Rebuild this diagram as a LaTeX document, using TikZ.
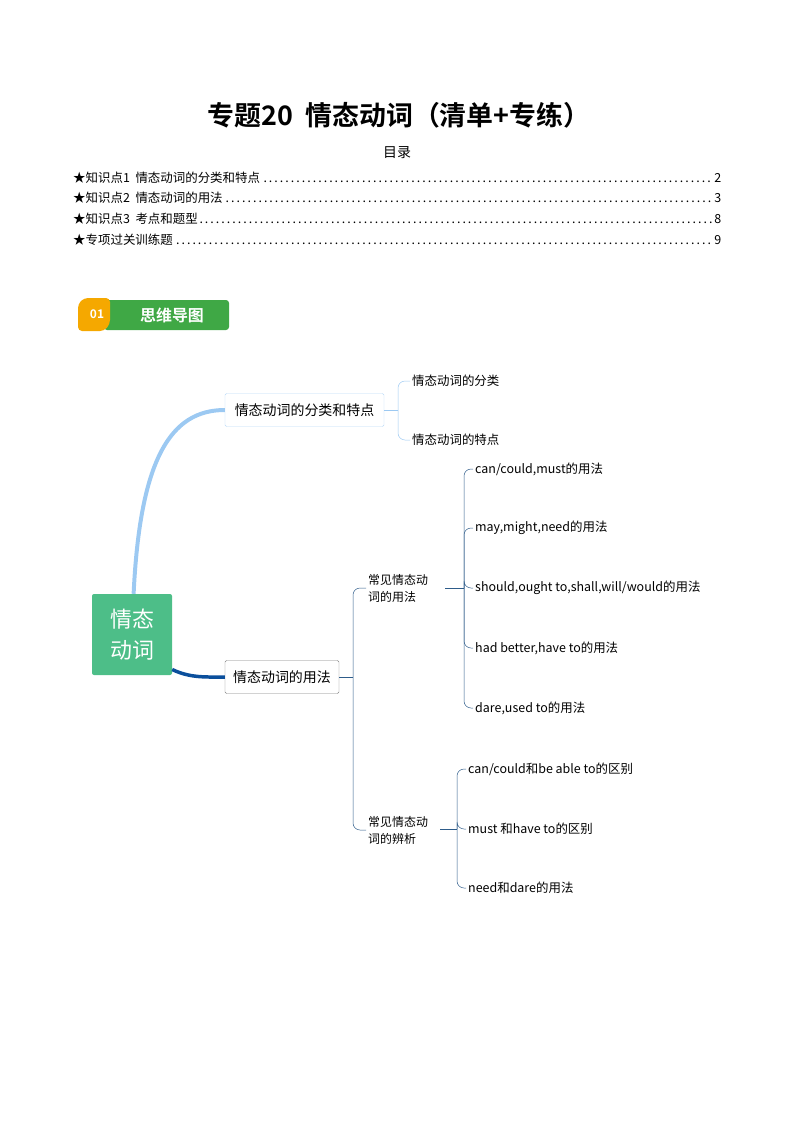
\documentclass[tikz,border=0pt]{standalone}
\usepackage{fontspec}
\setmainfont{Liberation Serif}
\newfontfamily\cjk{Noto Sans CJK SC}
\newfontfamily\cjkb{Noto Sans CJK SC Bold}
\usetikzlibrary{positioning,calc}
\definecolor{rootgreen}{HTML}{4DBE88}
\definecolor{lightblue}{HTML}{9CC9F2}
\definecolor{darkblue}{HTML}{0B4F9C}
\definecolor{linkblue}{HTML}{2E5C8A}
\definecolor{badgeorange}{HTML}{F5A800}
\definecolor{badgegreen}{HTML}{3FA845}
\tikzset{
  toc/.style={anchor=west, inner sep=0pt, font=\cjk\fontsize{12.5}{14}\selectfont},
  topic/.style={draw, rounded corners=1.5pt, inner xsep=5pt, minimum height=33bp, font=\cjk\fontsize{14}{16}\selectfont},
  leaf/.style={anchor=west, inner sep=2pt, font=\cjk\fontsize{12.5}{14}\selectfont},
  sub/.style={anchor=west, inner sep=2pt, align=left, font=\cjk\fontsize{12}{17}\selectfont},
  link/.style={linkblue, line width=0.5pt, rounded corners=7pt}
}
\begin{document}
\begin{tikzpicture}[x=1bp,y=-1bp]
\useasboundingbox (0,0) rectangle (794,1123);
% Title and contents
\node[font=\cjkb\fontsize{27}{30}\selectfont] (title) at (399,115) {专题20 \ 情态动词（清单+专练）};
\node[font=\cjk\fontsize{14}{16}\selectfont] (mulu) at (397,153) {目录};
\node[toc] (t1) at (73,178) {\makebox[648bp][l]{★知识点1 \ 情态动词的分类和特点\dotfill 2}};
\node[toc] (t2) at (73,198) {\makebox[648bp][l]{★知识点2 \ 情态动词的用法\dotfill 3}};
\node[toc] (t3) at (73,219) {\makebox[648bp][l]{★知识点3 \ 考点和题型\dotfill 8}};
\node[toc] (t4) at (73,240) {\makebox[648bp][l]{★专项过关训练题\dotfill 9}};
% Badge
\fill[badgegreen, rounded corners=3pt] (104,300) rectangle (229,330);
\fill[badgeorange, rounded corners=4pt] (78,331) -- (78,304) -- (84,298) -- (110,298) -- (110,324) -- (104,331) -- cycle;
\node[white, font=\cjkb\fontsize{12}{13}\selectfont] (num) at (97,314) {01};
\node[white, font=\cjkb\fontsize{16}{18}\selectfont] (badge) at (172,315) {思维导图};
% Mind map
\node[fill=rootgreen, rounded corners=2pt, minimum width=80bp, minimum height=81bp, align=left,
      text=white, font=\cjk\fontsize{22}{31}\selectfont] (root) at (132,634.5) {情态\\动词};
\node[topic, draw=lightblue!70, minimum width=159bp] (a) at (304.5,410) {情态动词的分类和特点};
\node[topic, draw=gray, minimum width=114bp] (b) at (282,677) {情态动词的用法};
\draw[lightblue, line width=4pt] ($(root.north west)!0.52!(root.north east)$) .. controls (140,460) and (170,410) .. (a.west);
\draw[darkblue, line width=3.5pt] ($(root.east)+(0,35)$) .. controls (190,678) and (205,677) .. (b.west);
% Branch of a
\node[leaf] (a1) at (410,381) {情态动词的分类};
\node[leaf] (a2) at (410,440) {情态动词的特点};
\coordinate (ja) at (398,410);
\draw[lightblue, line width=0.5pt] (a.east) -- (ja);
\foreach \c in {a1,a2}
  \draw[lightblue, line width=0.5pt, rounded corners=7pt] (ja) |- (\c.west);
% Branch of b
\node[sub] (b1) at (366,588) {常见情态动\\词的用法};
\node[sub] (b2) at (366,830) {常见情态动\\词的辨析};
\coordinate (jb) at (353,677);
\draw[link] (b.east) -- (jb);
\foreach \c in {b1,b2}
  \draw[link] (jb) |- (\c.west);
% Leaves of b1
\node[leaf] (c1) at (473,469) {can/could,must的用法};
\node[leaf] (c2) at (473,528) {may,might,need的用法};
\node[leaf] (c3) at (473,588) {should,ought to,shall,will/would的用法};
\node[leaf] (c4) at (473,648) {had better,have to的用法};
\node[leaf] (c5) at (473,708) {dare,used to的用法};
\coordinate (jc) at (464,588);
\draw[link] (445,588) -- (jc);
\foreach \c in {c1,c2,c3,c4,c5}
  \draw[link] (jc) |- (\c.west);
% Leaves of b2
\node[leaf] (d1) at (466,769) {can/could和be able to的区别};
\node[leaf] (d2) at (466,829) {must 和have to的区别};
\node[leaf] (d3) at (466,888) {need和dare的用法};
\coordinate (jd) at (457,829);
\draw[link] (440,829) -- (jd);
\foreach \c in {d1,d2,d3}
  \draw[link] (jd) |- (\c.west);
\end{tikzpicture}
\end{document}
